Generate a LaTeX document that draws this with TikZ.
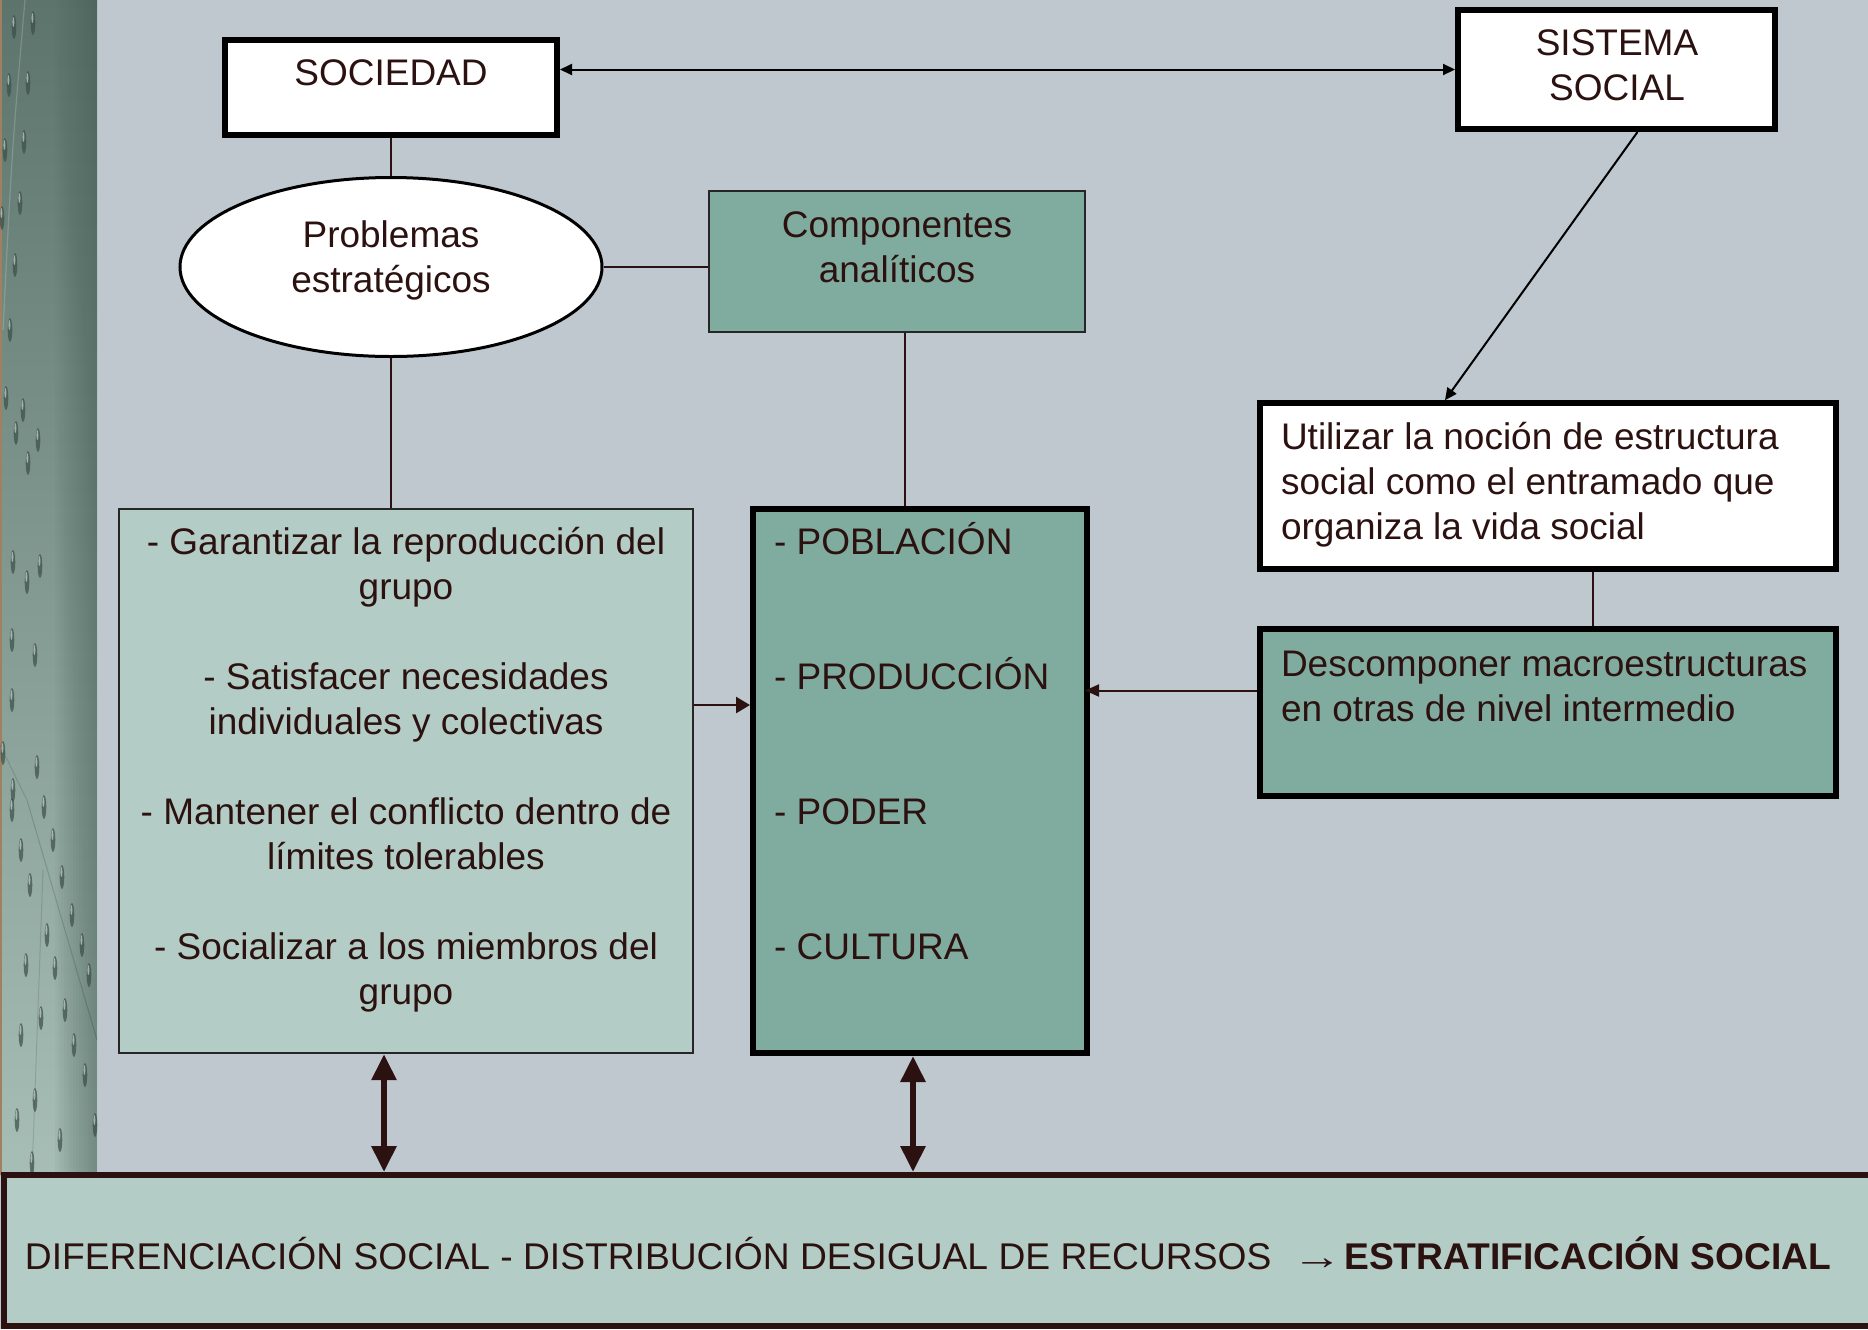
\documentclass[tikz,border=0pt]{standalone}
\usepackage{fontspec}
\setmainfont{Liberation Sans}
\usetikzlibrary{arrows.meta,calc,shapes.geometric}
\definecolor{bg}{RGB}{190,200,206}
\definecolor{ink}{RGB}{43,18,16}
\definecolor{lightbox}{RGB}{179,205,198}
\definecolor{tealbox}{RGB}{128,172,160}
\definecolor{stripT}{RGB}{92,116,108}
\definecolor{stripM}{RGB}{128,152,143}
\definecolor{stripB}{RGB}{166,190,181}
\definecolor{stripR}{RGB}{70,94,86}
\definecolor{dropdark}{RGB}{58,78,72}
\def\px{0.5pt}
\newcommand\mydrop[2]{\fill[dropdark,opacity=.7] (#1,#2) ellipse [x radius=2.3, y radius=12];
  \fill[white,opacity=.5] (#1-0.6,#2-5) ellipse [x radius=1, y radius=5];}
\tikzset{
  whitebox/.style={draw=black, fill=white, line width=3pt, rectangle},
  paleb/.style={draw=black!85, fill=lightbox, line width=1.2pt, rectangle},
  tealb/.style={draw=black, fill=tealbox, line width=3pt, rectangle},
  thinline/.style={draw=ink, line width=0.8pt},
  blackarrow/.style={draw=black, line width=1pt},
  inkarrow/.style={draw=ink, line width=1.2pt, -{Triangle[length=7pt,width=8pt]}},
  bigarrow/.style={draw=ink, line width=3pt, {Triangle[length=13pt,width=12pt]}-{Triangle[length=13pt,width=12pt]}},
  txt/.style={text=ink, inner sep=0pt, outer sep=0pt}
}
\begin{document}
\begin{tikzpicture}[x=0.5pt, y=-0.5pt, font=\fontsize{18.5pt}{22.5pt}\selectfont]
\useasboundingbox (0,0) rectangle (1868,1329);
\clip (0,0) rectangle (1868,1329);
\fill[bg] (0,0) rectangle (1868,1329);
% decorative left strip
\shade[top color=stripT, bottom color=stripM] (0,0) rectangle (97,560);
\shade[top color=stripM, bottom color=stripB] (0,560) rectangle (97,1175);
\foreach \i in {0,...,13} {\fill[stripR, opacity=0.045] (55+3*\i,0) rectangle (97,1175);}
\fill[brown!50!gray] (0,0) rectangle (1.5,1175);
\draw[white, opacity=.18, line width=0.6pt] (25,0) .. controls (12,150) .. (3,330);
\draw[black, opacity=.15, line width=0.5pt] (27,800) -- (97,1040);
\draw[black, opacity=.12, line width=0.5pt] (43,870) -- (32,1175);
\draw[black, opacity=.12, line width=0.5pt] (0,745) -- (27,800);
\foreach \a/\b in {14/27,33/23,9/85,28/83,5/150,24/142,20/203,2/218,15/265,10/330,6/398,23/410,16/433,28/463,38/440,13/562,40/566,27/582,12/640,35/655,12/700,3/753,37/767,13/790,12/810,44/807,21/850,53/840,30/885,62/877,72/915,47/935,26/965,82/945,55/968,89/975,65/1010,41/1018,74/1045,21/1035,85/1075,35/1100,17/1120,95/1125,60/1140,32/1163}
  {\mydrop{\a}{\b}}

% boxes
\node[whitebox, minimum width=332*\px, minimum height=95*\px] (soc) at (391,87.5) {};
\node[txt] (soct) at (391,73) {SOCIEDAD};

\node[whitebox, minimum width=317*\px, minimum height=119*\px] (sis) at (1616.5,69.5) {};
\node[txt, align=center] (sist) at (1617,65) {SISTEMA\\SOCIAL};

\node[ellipse, draw=black, fill=white, line width=1.5pt, minimum width=422*\px, minimum height=179*\px] (ell) at (391,267) {};
\node[txt, align=center] (ellt) at (391,260) {Problemas\\estratégicos};

\node[draw=black!85, fill=tealbox, line width=1pt, minimum width=376*\px, minimum height=141*\px] (comp) at (897,261.5) {};
\node[txt, align=center] (compt) at (897,247) {Componentes\\analíticos};

\node[paleb, minimum width=574*\px, minimum height=544*\px] (left) at (406,781) {};
\node[txt, align=center] (leftt) at (406,770) {- Garantizar la reproducción del\\grupo\\[22.5pt]- Satisfacer necesidades\\individuales y colectivas\\[22.5pt]- Mantener el conflicto dentro de\\límites tolerables\\[22.5pt]- Socializar a los miembros del\\grupo};

\node[tealb, minimum width=334*\px, minimum height=544*\px] (mid) at (920,781) {};
\node[txt, align=left, anchor=west] (midt) at (774,741) {- POBLACIÓN\\[45pt]- PRODUCCIÓN\\[45pt]- PODER\\[45pt]- CULTURA};

\node[whitebox, line width=2.8pt, minimum width=576*\px, minimum height=166*\px] (util) at (1548,486) {};
\node[txt, align=left, anchor=west] (utilt) at (1281,485) {Utilizar la noción de estructura\\social como el entramado que\\organiza la vida social};

\node[tealb, minimum width=576*\px, minimum height=167*\px] (desc) at (1548,712.5) {};
\node[txt, align=left, anchor=west] (desct) at (1281,686) {Descomponer macroestructuras\\en otras de nivel intermedio};

\node[draw=ink, fill=lightbox, line width=3pt, minimum width=1896*\px, minimum height=151*\px] (bot) at (952,1250.5) {};
\node[txt, anchor=west, font=\fontsize{18.6pt}{22pt}\selectfont] (bott) at (25,1253) {DIFERENCIACIÓN SOCIAL - DISTRIBUCIÓN DESIGUAL DE RECURSOS \ \scalebox{1.35}[1]{→}\kern1pt\textbf{ESTRATIFICACIÓN SOCIAL}};

% connectors
\draw[blackarrow, {Triangle[length=6pt,width=5.5pt]}-{Triangle[length=6pt,width=5.5pt]}] (sis.west -| soc.east) -- (sis.west);
\draw[thinline] (soc.south) -- (ell.north);
\draw[thinline] (ell.east) -- (ell.east -| comp.west);
\draw[thinline] (ell.south) -- (ell.south |- left.north);
\coordinate (cm) at ($(comp.south)+(8,0)$);
\draw[thinline] (cm) -- (cm |- mid.north);
\coordinate (la) at ($(left.east)+(0,-76)$);
\draw[inkarrow] (la) -- (la -| mid.west);
\coordinate (da) at ($(desc.west)+(0,-22)$);
\draw[draw=ink, line width=1pt, -{Triangle[length=7pt,width=6pt]}] (da) -- ($(da -| mid.east)+(-5,0)$);
\draw[blackarrow, -{Triangle[length=6pt,width=5.5pt]}] ($(sis.south)+(21,0)$) -- ($(util.north)+(-103,0)$);
\coordinate (ud) at ($(util.south)+(45,0)$);
\draw[thinline] (ud) -- (ud |- desc.north);
\coordinate (b1) at ($(left.south)+(-22,0)$);
\draw[bigarrow] (b1) -- (b1 |- bot.north);
\coordinate (b2) at ($(mid.south)+(-7,0)$);
\draw[bigarrow] (b2) -- (b2 |- bot.north);
\end{tikzpicture}
\end{document}
